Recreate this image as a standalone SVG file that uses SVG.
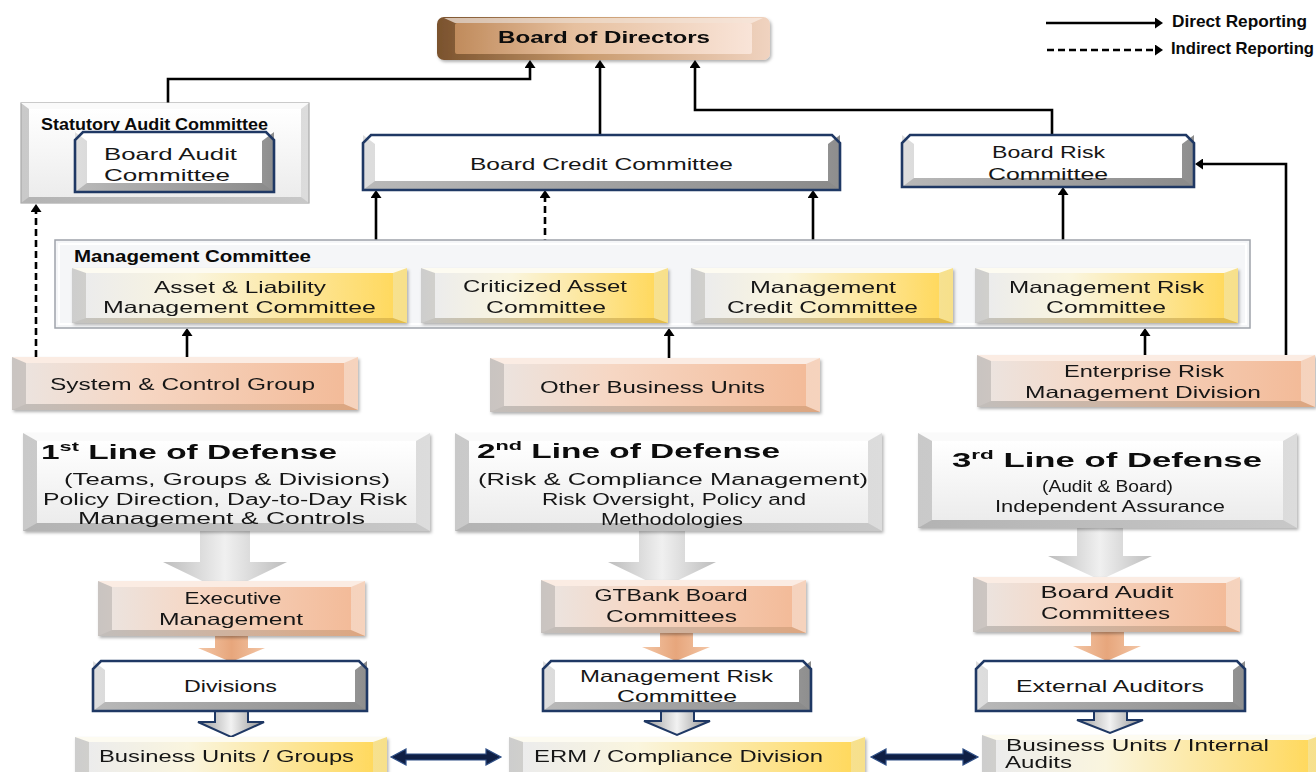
<svg xmlns="http://www.w3.org/2000/svg" width="1316" height="772" viewBox="0 0 1316 772">
<defs>
<style>
.t{font-family:"Liberation Sans","Open Sans",sans-serif;font-size:16.5px;fill:#161616;text-anchor:middle}
.s{text-anchor:start}
.b{font-weight:700;fill:#0a0a0a}
.lod{font-family:"Liberation Sans","Open Sans",sans-serif;font-weight:700;font-size:20px;fill:#0a0a0a}
.sub{font-size:16px}
.ln{fill:none;stroke:#000;stroke-width:2.6}
.dash{stroke-dasharray:7 4}
.arr{marker-end:url(#ah)}
.navy{fill:none;stroke:#1f3864;stroke-width:2.6;stroke-linejoin:miter}
.sh{filter:url(#shadow)}
</style>
<filter id="shadow" x="-5%" y="-10%" width="115%" height="135%">
<feDropShadow dx="1.5" dy="2" stdDeviation="1.5" flood-color="#000" flood-opacity="0.3"/>
</filter>
<marker id="ah" viewBox="0 0 8 11" refX="5" refY="5.5" markerWidth="8" markerHeight="11" markerUnits="userSpaceOnUse" orient="auto">
<path d="M0,0 L8,5.5 L0,11 Z" fill="#000"/>
</marker>
<linearGradient id="orFace" x1="0" y1="0" x2="1" y2="0"><stop offset="0" stop-color="#ece3de"/><stop offset="0.35" stop-color="#f6d7c4"/><stop offset="1" stop-color="#f3bb99"/></linearGradient>
<linearGradient id="orSide" x1="0" y1="0" x2="1" y2="0"><stop offset="0" stop-color="#c9c4c1"/><stop offset="0.5" stop-color="#e9d0c1"/><stop offset="1" stop-color="#f6d3bd"/></linearGradient>
<linearGradient id="orBot" x1="0" y1="0" x2="1" y2="0"><stop offset="0" stop-color="#c2bebb"/><stop offset="1" stop-color="#dda680"/></linearGradient>
<linearGradient id="yeFace" x1="0" y1="0" x2="1" y2="0"><stop offset="0" stop-color="#ececec"/><stop offset="0.35" stop-color="#faf5de"/><stop offset="1" stop-color="#ffd95f"/></linearGradient>
<linearGradient id="yeSide" x1="0" y1="0" x2="1" y2="0"><stop offset="0" stop-color="#cdcdcd"/><stop offset="0.5" stop-color="#efe7c4"/><stop offset="1" stop-color="#f7e08a"/></linearGradient>
<linearGradient id="yeBot" x1="0" y1="0" x2="1" y2="0"><stop offset="0" stop-color="#c4c4c4"/><stop offset="1" stop-color="#e3bb48"/></linearGradient>
<linearGradient id="nvSide" x1="0" y1="0" x2="1" y2="0"><stop offset="0" stop-color="#dedede"/><stop offset="0.5" stop-color="#c4c4c4"/><stop offset="1" stop-color="#8e8e8e"/></linearGradient>
<linearGradient id="nvBot" x1="0" y1="0" x2="1" y2="0"><stop offset="0" stop-color="#b9b9b9"/><stop offset="1" stop-color="#8a8a8a"/></linearGradient>
<linearGradient id="gySide" x1="0" y1="0" x2="1" y2="0"><stop offset="0" stop-color="#c9c9c9"/><stop offset="1" stop-color="#dcdcdc"/></linearGradient>
<linearGradient id="gyBot" x1="0" y1="0" x2="1" y2="0"><stop offset="0" stop-color="#b3b3b3"/><stop offset="1" stop-color="#c8c8c8"/></linearGradient>
<linearGradient id="gyFace" x1="0" y1="0" x2="0" y2="1"><stop offset="0" stop-color="#ffffff"/><stop offset="1" stop-color="#ececec"/></linearGradient>
<linearGradient id="bodSide" x1="0" y1="0" x2="1" y2="0"><stop offset="0" stop-color="#7a522d"/><stop offset="0.45" stop-color="#c99b6e"/><stop offset="1" stop-color="#f0d3c0"/></linearGradient>
<linearGradient id="bodFace" x1="0" y1="0" x2="1" y2="0"><stop offset="0" stop-color="#c08b5c"/><stop offset="0.4" stop-color="#e6c09f"/><stop offset="1" stop-color="#f9e4d8"/></linearGradient>
<linearGradient id="bigArr" x1="0" y1="0" x2="1" y2="0"><stop offset="0" stop-color="#bdbdbd"/><stop offset="0.5" stop-color="#f0f0f0"/><stop offset="1" stop-color="#bdbdbd"/></linearGradient>
<linearGradient id="orArr" x1="0" y1="0" x2="1" y2="0"><stop offset="0" stop-color="#f3c6a6"/><stop offset="0.5" stop-color="#e7a67c"/><stop offset="1" stop-color="#f3c6a6"/></linearGradient>
<linearGradient id="hlArr" x1="0" y1="0" x2="1" y2="0"><stop offset="0" stop-color="#9a9a9a"/><stop offset="0.5" stop-color="#f2f2f2"/><stop offset="1" stop-color="#8d8d8d"/></linearGradient>
</defs>

<rect width="1316" height="772" fill="#ffffff"/>

<g id="connectors">
<path class="ln arr" d="M168,103 V79 H530 V63"/>
<path class="ln arr" d="M600,135 V63"/>
<path class="ln arr" d="M1052,135 V110 H695 V63"/>
<path class="ln arr" d="M1286,355 V164 H1198"/>
<path class="ln arr" d="M1063,268 V190"/>
<path class="ln arr" d="M376,268 V193"/>
<path class="ln arr dash" d="M545,268 V193"/>
<path class="ln arr" d="M813,268 V193"/>
<path class="ln arr dash" d="M36,357 V207"/>
<path class="ln arr" d="M187,357 V331"/>
<path class="ln arr" d="M669,358 V331"/>
<path class="ln arr" d="M1145,355 V331"/>
<g id="flow-arrows">
<polygon fill="url(#bigArr)" points="200,531 250,531 250,562 287,562 225,592 163,562 200,562"/>
<polygon fill="url(#bigArr)" points="639,531 685,531 685,562 716,562 662,588 608,562 639,562"/>
<polygon fill="url(#bigArr)" points="1077,528 1123,528 1123,556 1152,556 1100,580 1048,556 1077,556"/>
<polygon fill="url(#orArr)" points="215,636 248,636 248,648 265,648 231,662 198,648 215,648"/>
<polygon fill="url(#orArr)" points="660,633 693,633 693,647 710,647 676,661 642,647 660,647"/>
<polygon fill="url(#orArr)" points="1091,632 1124,632 1124,646 1141,646 1107,661 1073,646 1091,646"/>
<polygon fill="url(#hlArr)" stroke="#1f3864" stroke-width="2" points="215,711 248,711 248,722 264,722 231,737 198,722 215,722"/>
<polygon fill="url(#hlArr)" stroke="#1f3864" stroke-width="2" points="661,711 694,711 694,721 710,721 677,735 644,721 661,721"/>
<polygon fill="url(#hlArr)" stroke="#1f3864" stroke-width="2" points="1094,711 1127,711 1127,720 1143,720 1110,733 1077,720 1094,720"/>
<polygon fill="#0f1f45" stroke="#2f4f86" stroke-width="1.2" points="391,757 406,749 406,754 486,754 486,749 501,757 486,765 486,760 406,760 406,765"/>
<polygon fill="#0f1f45" stroke="#2f4f86" stroke-width="1.2" points="871,757 886,749 886,754 963,754 963,749 978,757 963,765 963,760 886,760 886,765"/>
</g>
</g>

<g id="legend">
<path class="ln arr" d="M1046,23 H1160"/>
<path class="ln arr dash" d="M1047,50 H1160"/>
<text class="t s b" x="1172" y="27" font-size="12" textLength="135" lengthAdjust="spacingAndGlyphs">Direct Reporting</text>
<text class="t s b" x="1171" y="54" font-size="12" textLength="143" lengthAdjust="spacingAndGlyphs">Indirect Reporting</text>
</g>

<g id="board-of-directors" class="sh">
<rect x="437" y="17" width="333" height="43" rx="7" fill="url(#bodSide)"/>
<polygon points="444,18 763,18 752,23 455,23" fill="#fbeee6" opacity="0.7"/>
<rect x="455" y="23" width="297" height="31" rx="2" fill="url(#bodFace)"/>
<text class="t b" x="604" y="43" font-size="15.5" textLength="212" lengthAdjust="spacingAndGlyphs">Board of Directors</text>
</g>

<g id="statutory-audit-committee">
<rect x="21" y="103" width="288" height="100" fill="url(#gySide)" stroke="#a8a8a8" stroke-width="1.2"/>
<polygon points="21,103 309,103 301,109 29,109" fill="#fafafa"/>
<polygon points="21,203 309,203 301,197 29,197" fill="url(#gyBot)"/>
<rect x="29" y="109" width="272" height="88" fill="url(#gyFace)"/>
<text class="t s b" x="41" y="130" font-size="12" textLength="227" lengthAdjust="spacingAndGlyphs">Statutory Audit Committee</text>
</g>

<g id="board-audit-committee">
<rect x="75" y="132" width="199" height="60" fill="url(#nvSide)"/>
<polygon points="75,132 274,132 262,141 87,141" fill="#ffffff"/>
<polygon points="75,192 274,192 262,183 87,183" fill="url(#nvBot)"/>
<rect x="87" y="141" width="175" height="42" fill="#ffffff"/>
<path class="navy" d="M83,132 H266 L274,140 V192 H75 V140 Z"/>
<text class="t s" x="104" y="160" textLength="133" lengthAdjust="spacingAndGlyphs">Board Audit</text>
<text class="t s" x="104" y="181" textLength="126" lengthAdjust="spacingAndGlyphs">Committee</text>
</g>

<g id="board-credit-committee">
<rect x="363" y="135" width="477" height="55" fill="url(#nvSide)"/>
<polygon points="363,135 840,135 828,144 375,144" fill="#ffffff"/>
<polygon points="363,190 840,190 828,181 375,181" fill="url(#nvBot)"/>
<rect x="375" y="144" width="453" height="37" fill="#ffffff"/>
<path class="navy" d="M371,135 H832 L840,143 V190 H363 V143 Z"/>
<text class="t" x="601.5" y="170" textLength="263" lengthAdjust="spacingAndGlyphs">Board Credit Committee</text>
</g>

<g id="board-risk-committee">
<rect x="902" y="135" width="292" height="52" fill="url(#nvSide)"/>
<polygon points="902,135 1194,135 1182,144 914,144" fill="#ffffff"/>
<polygon points="902,187 1194,187 1182,178 914,178" fill="url(#nvBot)"/>
<rect x="914" y="144" width="268" height="34" fill="#ffffff"/>
<path class="navy" d="M910,135 H1186 L1194,143 V187 H902 V143 Z"/>
<text class="t" x="1048.5" y="158" textLength="113" lengthAdjust="spacingAndGlyphs">Board Risk</text>
<text class="t" x="1048" y="180" textLength="120" lengthAdjust="spacingAndGlyphs">Committee</text>
</g>

<g id="management-committee">
<rect x="55" y="240" width="1195" height="88" fill="#f5f6f8" stroke="#9ea3aa" stroke-width="1.5"/>
<rect x="59" y="244" width="1187" height="80" fill="none" stroke="#ffffff" stroke-width="2"/>
<text class="t s b" x="74" y="262" font-size="12" textLength="237" lengthAdjust="spacingAndGlyphs">Management Committee</text>
</g>

<g id="asset-liability-committee" class="sh">
<rect x="72" y="268" width="335" height="55" fill="url(#yeSide)"/>
<polygon points="72,268 407,268 393,273 86,273" fill="#fdfbf1"/>
<polygon points="72,323 407,323 393,318 86,318" fill="url(#yeBot)"/>
<rect x="86" y="273" width="307" height="45" fill="url(#yeFace)"/>
<text class="t" x="240" y="293" textLength="172" lengthAdjust="spacingAndGlyphs">Asset &amp; Liability</text>
<text class="t" x="239.5" y="313" textLength="273" lengthAdjust="spacingAndGlyphs">Management Committee</text>
</g>

<g id="criticized-asset-committee" class="sh">
<rect x="421" y="268" width="247" height="55" fill="url(#yeSide)"/>
<polygon points="421,268 668,268 654,273 435,273" fill="#fdfbf1"/>
<polygon points="421,323 668,323 654,318 435,318" fill="url(#yeBot)"/>
<rect x="435" y="273" width="219" height="45" fill="url(#yeFace)"/>
<text class="t" x="545" y="292" textLength="164" lengthAdjust="spacingAndGlyphs">Criticized Asset</text>
<text class="t" x="546" y="313" textLength="120" lengthAdjust="spacingAndGlyphs">Committee</text>
</g>

<g id="management-credit-committee" class="sh">
<rect x="691" y="268" width="262" height="55" fill="url(#yeSide)"/>
<polygon points="691,268 953,268 939,273 705,273" fill="#fdfbf1"/>
<polygon points="691,323 953,323 939,318 705,318" fill="url(#yeBot)"/>
<rect x="705" y="273" width="234" height="45" fill="url(#yeFace)"/>
<text class="t" x="823" y="293" textLength="146" lengthAdjust="spacingAndGlyphs">Management</text>
<text class="t" x="822.5" y="313" textLength="191" lengthAdjust="spacingAndGlyphs">Credit Committee</text>
</g>

<g id="management-risk-committee" class="sh">
<rect x="975" y="268" width="263" height="55" fill="url(#yeSide)"/>
<polygon points="975,268 1238,268 1224,273 989,273" fill="#fdfbf1"/>
<polygon points="975,323 1238,323 1224,318 989,318" fill="url(#yeBot)"/>
<rect x="989" y="273" width="235" height="45" fill="url(#yeFace)"/>
<text class="t" x="1106.5" y="293" textLength="195" lengthAdjust="spacingAndGlyphs">Management Risk</text>
<text class="t" x="1106" y="313" textLength="120" lengthAdjust="spacingAndGlyphs">Committee</text>
</g>

<g id="system-control-group" class="sh">
<rect x="12" y="357" width="346" height="53" fill="url(#orSide)"/>
<polygon points="12,357 358,357 344,363 26,363" fill="#fbece3"/>
<polygon points="12,410 358,410 344,404 26,404" fill="url(#orBot)"/>
<rect x="26" y="363" width="318" height="41" fill="url(#orFace)"/>
<text class="t" x="182.5" y="390" textLength="265" lengthAdjust="spacingAndGlyphs">System &amp; Control Group</text>
</g>

<g id="other-business-units" class="sh">
<rect x="490" y="358" width="330" height="54" fill="url(#orSide)"/>
<polygon points="490,358 820,358 806,364 504,364" fill="#fbece3"/>
<polygon points="490,412 820,412 806,406 504,406" fill="url(#orBot)"/>
<rect x="504" y="364" width="302" height="42" fill="url(#orFace)"/>
<text class="t" x="652.5" y="393" textLength="225" lengthAdjust="spacingAndGlyphs">Other Business Units</text>
</g>

<g id="erm-division" class="sh">
<rect x="977" y="355" width="338" height="52" fill="url(#orSide)"/>
<polygon points="977,355 1315,355 1301,361 991,361" fill="#fbece3"/>
<polygon points="977,407 1315,407 1301,401 991,401" fill="url(#orBot)"/>
<rect x="991" y="361" width="310" height="40" fill="url(#orFace)"/>
<text class="t" x="1144" y="377" textLength="160" lengthAdjust="spacingAndGlyphs">Enterprise Risk</text>
<text class="t" x="1143" y="398" textLength="236" lengthAdjust="spacingAndGlyphs">Management Division</text>
</g>

<g id="first-line" class="sh">
<rect x="23" y="433" width="407" height="98" fill="url(#gySide)"/>
<polygon points="23,433 430,433 416,441 37,441" fill="#fafafa"/>
<polygon points="23,531 430,531 416,523 37,523" fill="url(#gyBot)"/>
<rect x="37" y="441" width="379" height="82" fill="url(#gyFace)"/>
<text class="lod" x="41" y="459" textLength="296" lengthAdjust="spacingAndGlyphs">1<tspan font-size="13" dy="-8">st</tspan><tspan dy="8"> Line of Defense</tspan></text>
<text class="t sub" x="227" y="485" textLength="326" lengthAdjust="spacingAndGlyphs">(Teams, Groups &amp; Divisions)</text>
<text class="t sub" x="225" y="505" textLength="364" lengthAdjust="spacingAndGlyphs">Policy Direction, Day-to-Day Risk</text>
<text class="t sub" x="221.5" y="524" textLength="287" lengthAdjust="spacingAndGlyphs">Management &amp; Controls</text>
</g>

<g id="second-line" class="sh">
<rect x="455" y="433" width="427" height="98" fill="url(#gySide)"/>
<polygon points="455,433 882,433 868,441 469,441" fill="#fafafa"/>
<polygon points="455,531 882,531 868,523 469,523" fill="url(#gyBot)"/>
<rect x="469" y="441" width="399" height="82" fill="url(#gyFace)"/>
<text class="lod" x="477" y="458" textLength="303" lengthAdjust="spacingAndGlyphs">2<tspan font-size="13" dy="-8">nd</tspan><tspan dy="8"> Line of Defense</tspan></text>
<text class="t sub" x="673" y="485" textLength="390" lengthAdjust="spacingAndGlyphs">(Risk &amp; Compliance Management)</text>
<text class="t sub" x="674" y="505" textLength="264" lengthAdjust="spacingAndGlyphs">Risk Oversight, Policy and</text>
<text class="t sub" x="672" y="525" textLength="142" lengthAdjust="spacingAndGlyphs">Methodologies</text>
</g>

<g id="third-line" class="sh">
<rect x="918" y="433" width="379" height="95" fill="url(#gySide)"/>
<polygon points="918,433 1297,433 1283,441 932,441" fill="#fafafa"/>
<polygon points="918,528 1297,528 1283,520 932,520" fill="url(#gyBot)"/>
<rect x="932" y="441" width="351" height="79" fill="url(#gyFace)"/>
<text class="lod" x="952" y="467" textLength="310" lengthAdjust="spacingAndGlyphs">3<tspan font-size="13" dy="-8">rd</tspan><tspan dy="8"> Line of Defense</tspan></text>
<text class="t sub" x="1107.5" y="492" textLength="131" lengthAdjust="spacingAndGlyphs">(Audit &amp; Board)</text>
<text class="t sub" x="1110" y="512" textLength="230" lengthAdjust="spacingAndGlyphs">Independent Assurance</text>
</g>

<g id="executive-management" class="sh">
<rect x="98" y="581" width="267" height="55" fill="url(#orSide)"/>
<polygon points="98,581 365,581 351,587 112,587" fill="#fbece3"/>
<polygon points="98,636 365,636 351,630 112,630" fill="url(#orBot)"/>
<rect x="112" y="587" width="239" height="43" fill="url(#orFace)"/>
<text class="t" x="233" y="604" textLength="97" lengthAdjust="spacingAndGlyphs">Executive</text>
<text class="t" x="231" y="625" textLength="144" lengthAdjust="spacingAndGlyphs">Management</text>
</g>

<g id="gtbank-board-committees" class="sh">
<rect x="541" y="580" width="265" height="53" fill="url(#orSide)"/>
<polygon points="541,580 806,580 792,586 555,586" fill="#fbece3"/>
<polygon points="541,633 806,633 792,627 555,627" fill="url(#orBot)"/>
<rect x="555" y="586" width="237" height="41" fill="url(#orFace)"/>
<text class="t" x="671" y="601" textLength="153" lengthAdjust="spacingAndGlyphs">GTBank Board</text>
<text class="t" x="671.5" y="622" textLength="131" lengthAdjust="spacingAndGlyphs">Committees</text>
</g>

<g id="board-audit-committees" class="sh">
<rect x="973" y="577" width="267" height="55" fill="url(#orSide)"/>
<polygon points="973,577 1240,577 1226,583 987,583" fill="#fbece3"/>
<polygon points="973,632 1240,632 1226,626 987,626" fill="url(#orBot)"/>
<rect x="987" y="583" width="239" height="43" fill="url(#orFace)"/>
<text class="t" x="1107" y="598" textLength="133" lengthAdjust="spacingAndGlyphs">Board Audit</text>
<text class="t" x="1105.5" y="619" textLength="129" lengthAdjust="spacingAndGlyphs">Committees</text>
</g>

<g id="divisions">
<rect x="93" y="661" width="274" height="50" fill="url(#nvSide)"/>
<polygon points="93,661 367,661 355,670 105,670" fill="#ffffff"/>
<polygon points="93,711 367,711 355,702 105,702" fill="url(#nvBot)"/>
<rect x="105" y="670" width="250" height="32" fill="#ffffff"/>
<path class="navy" d="M101,661 H359 L367,669 V711 H93 V669 Z"/>
<text class="t" x="230.5" y="692" textLength="93" lengthAdjust="spacingAndGlyphs">Divisions</text>
</g>

<g id="management-risk-committee-2">
<rect x="543" y="661" width="268" height="50" fill="url(#nvSide)"/>
<polygon points="543,661 811,661 799,670 555,670" fill="#ffffff"/>
<polygon points="543,711 811,711 799,702 555,702" fill="url(#nvBot)"/>
<rect x="555" y="670" width="244" height="32" fill="#ffffff"/>
<path class="navy" d="M551,661 H803 L811,669 V711 H543 V669 Z"/>
<text class="t" x="676.5" y="682" textLength="193" lengthAdjust="spacingAndGlyphs">Management Risk</text>
<text class="t" x="677" y="702" textLength="120" lengthAdjust="spacingAndGlyphs">Committee</text>
</g>

<g id="external-auditors">
<rect x="976" y="661" width="269" height="50" fill="url(#nvSide)"/>
<polygon points="976,661 1245,661 1233,670 988,670" fill="#ffffff"/>
<polygon points="976,711 1245,711 1233,702 988,702" fill="url(#nvBot)"/>
<rect x="988" y="670" width="245" height="32" fill="#ffffff"/>
<path class="navy" d="M984,661 H1237 L1245,669 V711 H976 V669 Z"/>
<text class="t" x="1110" y="692" textLength="188" lengthAdjust="spacingAndGlyphs">External Auditors</text>
</g>

<g id="business-units-groups" class="sh">
<rect x="75" y="737" width="312" height="45" fill="url(#yeSide)"/>
<polygon points="75,737 387,737 373,742 89,742" fill="#fdfbf1"/>
<rect x="89" y="742" width="284" height="40" fill="url(#yeFace)"/>
<text class="t" x="226.5" y="762" textLength="255" lengthAdjust="spacingAndGlyphs">Business Units / Groups</text>
</g>

<g id="erm-compliance-division" class="sh">
<rect x="509" y="737" width="356" height="45" fill="url(#yeSide)"/>
<polygon points="509,737 865,737 851,742 523,742" fill="#fdfbf1"/>
<rect x="523" y="742" width="328" height="40" fill="url(#yeFace)"/>
<text class="t" x="678.5" y="762" textLength="289" lengthAdjust="spacingAndGlyphs">ERM / Compliance Division</text>
</g>

<g id="business-units-internal-audits" class="sh">
<rect x="982" y="735" width="340" height="47" fill="url(#yeSide)"/>
<polygon points="982,735 1322,735 1308,740 996,740" fill="#fdfbf1"/>
<rect x="996" y="740" width="312" height="42" fill="url(#yeFace)"/>
<text class="t s" x="1006" y="751" font-size="15.5" textLength="263" lengthAdjust="spacingAndGlyphs">Business Units / Internal</text>
<text class="t s" x="1005" y="768" font-size="15.5" textLength="67" lengthAdjust="spacingAndGlyphs">Audits</text>
</g>
</svg>
